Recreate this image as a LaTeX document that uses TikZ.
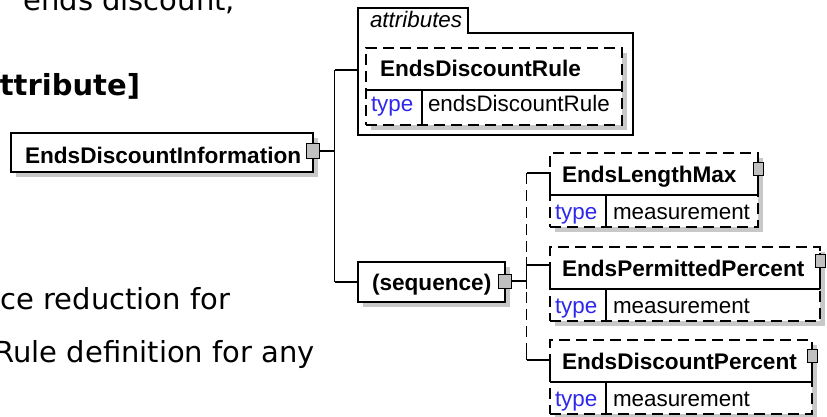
\documentclass[tikz,border=0pt]{standalone}
\usepackage{fontspec}
\setmainfont{Liberation Sans}
\newfontfamily\pagefont{DejaVu Sans}
\usetikzlibrary{positioning,calc}

\definecolor{typeblue}{RGB}{45,40,235}
\definecolor{shadowgray}{RGB}{200,200,200}
\definecolor{btngray}{RGB}{192,192,192}

\begin{document}
\begin{tikzpicture}[
		x=1pt, y=-1pt,
		line width=1.2pt,
		every node/.style={inner sep=0pt, outer sep=0pt},
		box/.style={draw, fill=white, rectangle, anchor=north west},
		optbox/.style={box, dash pattern=on 11pt off 6pt},
		shadowbox/.style={fill=shadowgray},
		btn/.style={draw, fill=btngray, line width=1pt, minimum width=10pt, minimum height=13pt},
		elname/.style={font=\fontsize{22.6}{26}\selectfont\bfseries, anchor=base west},
		val/.style={font=\fontsize{22.4}{26}\selectfont, anchor=base west},
		kw/.style={val, text=typeblue},
		pagetext/.style={font=\pagefont\fontsize{29}{34}\selectfont, anchor=base east}
		]
		
		\useasboundingbox (0,0) rectangle (827,417);
		\clip (0,0) rectangle (827,417);
		
		%--------------------------------------------------
		% Page text behind the diagram
		%--------------------------------------------------
		
		\node[pagetext] (p1) at (235,11) {ends discount,};
		\node[pagetext] (p2) at (140,96) {\bfseries attribute]};
		\node[pagetext] (p3) at (230,309) {ce reduction for};
		\node[pagetext] (p4) at (315,362) {Rule definition for any};
		
		%--------------------------------------------------
		% Root element
		%--------------------------------------------------
		
		\fill[shadowbox] (16,138) rectangle (318,177);
		\node[box, minimum width=302, minimum height=39] (info) at (11,133) {};
		\node[elname] (info-name) at (25,163) {EndsDiscountInformation};
		\node[btn, minimum width=13pt, minimum height=14pt] (info-btn) at ($(info.east)+(0,-1.5)$) {};
		\coordinate (trunk) at ($(info-btn.east)+(15,0)$);
		
		%--------------------------------------------------
		% Attributes
		%--------------------------------------------------
		
		\draw[fill=white] (358,135) -- (358,8) -- (468,8) -- (468,33) -- (633,33) -- (633,135) -- cycle;
		\node[font=\fontsize{22.4}{26}\selectfont\itshape, anchor=base west] (attrs) at (370,28) {attributes};
		\coordinate (attrs-in) at (358,70);
		
		\fill[shadowbox] (371,53) rectangle (627,130);
		\node[optbox, minimum width=256, minimum height=77] (rule) at (366,48) {};
		\draw ($(rule.north west)+(0,42)$) -- ($(rule.north east)+(0,42)$);
		\draw ($(rule.north west)+(56,42)$) -- ($(rule.south west)+(56,0)$);
		\node[elname] (rule-name) at ($(rule.north west)+(14,29)$) {EndsDiscountRule};
		\node[kw] (rule-kw) at ($(rule.north west)+(5,64)$) {type};
		\node[val] (rule-type) at ($(rule.north west)+(62,64)$) {endsDiscountRule};
		
		%--------------------------------------------------
		% Sequence
		%--------------------------------------------------
		
		\fill[shadowbox] (363,267) rectangle (510,307);
		\node[box, minimum width=147, minimum height=40] (seq) at (358,262) {};
		\node[elname] (seq-name) at (372,290) {(sequence)};
		\node[btn, minimum width=13pt, minimum height=14pt] (seq-btn) at ($(seq.east)+(0,-1)$) {};
		\coordinate (fork) at ($(seq-btn.east)+(15,0)$);
		
		\draw (info-btn) -- (trunk);
		\draw (trunk |- attrs-in) -- (trunk |- seq);
		\draw (trunk |- attrs-in) -- (attrs-in);
		\draw (trunk |- seq) -- (seq.west);
		\draw (seq-btn) -- (fork);
		
		%--------------------------------------------------
		% Child elements
		%--------------------------------------------------
		
		\foreach \n/\lab/\w/\t/\c in {lenmax/EndsLengthMax/208/153/173,
			permpct/EndsPermittedPercent/270/247/265,
			discpct/EndsDiscountPercent/262/340/360}
		{
			\fill[shadowbox] (555,\t+5) rectangle (555+\w,\t+79);
			\node[optbox, minimum width=\w, minimum height=74] (\n) at (550,\t) {};
			\draw ($(\n.north west)+(0,42)$) -- ($(\n.north east)+(0,42)$);
			\draw ($(\n.north west)+(56,42)$) -- ($(\n.south west)+(56,0)$);
			\draw ($(\n.north east)+(0,6)$) -- ($(\n.north east)+(0,42)$);
			\node[btn] (\n-btn) at ($(\n.north east)+(0,\c-\t-4)$) {};
			\node[elname] (\n-name) at ($(\n.north west)+(12,29)$) {\lab};
			\node[kw] (\n-kw) at ($(\n.north west)+(5,66)$) {type};
			\node[val] (\n-type) at ($(\n.north west)+(63,66)$) {measurement};
			\coordinate (\n-in) at ($(\n.north west)+(0,\c-\t)$);
			\draw (fork |- \n-in) -- (\n-in) -- ($(\n.north west)+(0,42)$);
		}
		
		\draw[dash pattern=on 11pt off 6pt] (fork |- lenmax-in) -- (fork |- discpct-in);
		\draw (fork |- lenmax-in) -- ++(0,10);
		\draw ($(fork)+(0,-24)$) -- ($(fork)+(0,8)$);
		\draw (fork |- discpct-in) -- ++(0,-12);
		
	\end{tikzpicture}
\end{document}
